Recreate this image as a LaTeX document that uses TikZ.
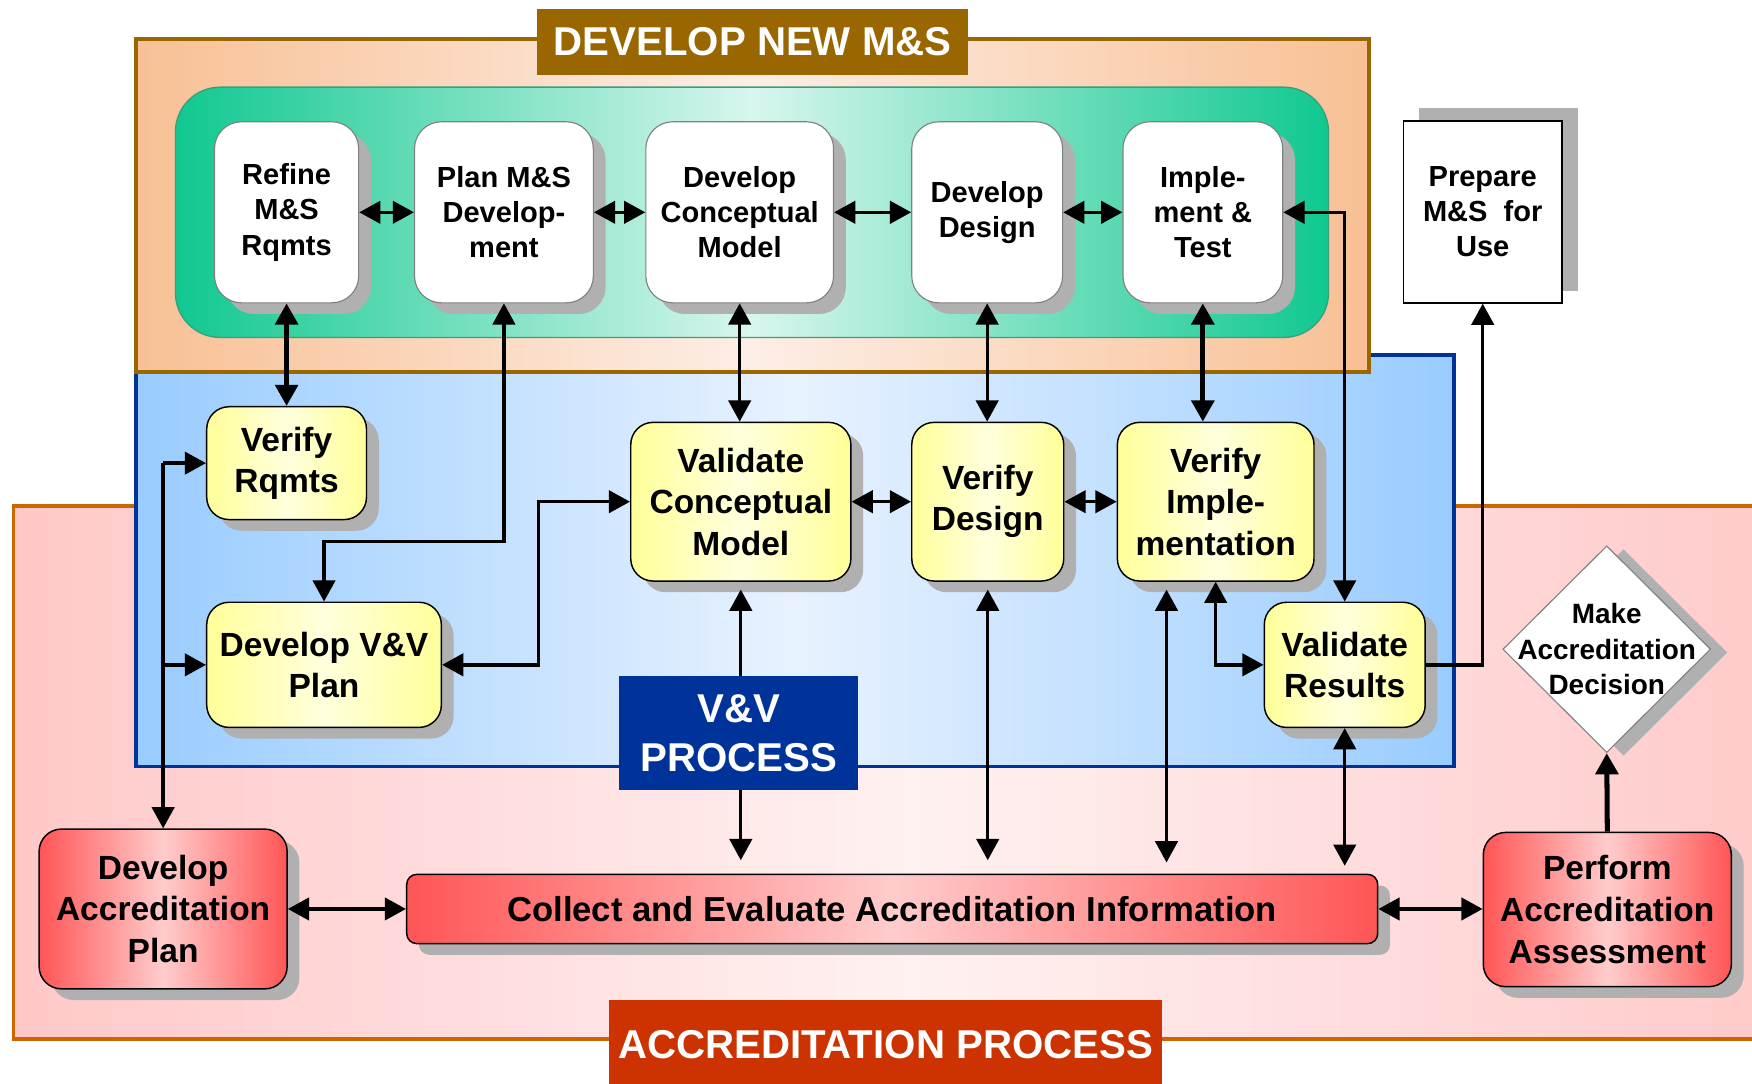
\documentclass[tikz,border=0pt]{standalone}
\usepackage{fontspec}
\setmainfont{Liberation Sans}
\usetikzlibrary{arrows.meta,shapes.geometric,shadows}
\definecolor{msbrown}{HTML}{996600}
\definecolor{mspeach}{HTML}{F8C094}
\definecolor{mspeachlt}{HTML}{FDEEE6}
\definecolor{msgreen}{HTML}{10C890}
\definecolor{msgreenlt}{HTML}{D8F6EE}
\definecolor{msgreenln}{HTML}{3AA07A}
\definecolor{vvblue}{HTML}{99CCFF}
\definecolor{vvbluelt}{HTML}{E8F2FF}
\definecolor{vvdark}{HTML}{003399}
\definecolor{accpink}{HTML}{FFC8C8}
\definecolor{accpinklt}{HTML}{FFF1F1}
\definecolor{accorange}{HTML}{CC6600}
\definecolor{accdark}{HTML}{CC3300}
\definecolor{boxyellow}{HTML}{FFFF99}
\definecolor{boxyellowlt}{HTML}{FFFFDD}
\definecolor{boxred}{HTML}{FF5555}
\definecolor{boxredlt}{HTML}{FFCCCC}
\definecolor{shadowgray}{HTML}{B0B0B0}
\begin{document}
\begin{tikzpicture}[
    x=1pt, y=-1pt,
    >={Triangle[length=19pt,width=20pt]},
    conn/.style={line width=3pt,<->},
    oneway/.style={line width=3pt,->},
    heavy/.style={line width=4.5pt},
    gshadow/.style={drop shadow={shadow xshift=11pt,shadow yshift=-10pt,fill=shadowgray,opacity=1}},
    devbox/.style={draw=gray, line width=1pt, fill=white, rounded corners=24pt, inner sep=0pt,
        align=center, font=\fontsize{26}{31.5}\selectfont\bfseries, gshadow},
    vvbox/.style={draw=black, line width=1.3pt, left color=boxyellow, right color=boxyellow,
        middle color=boxyellowlt, rounded corners=20pt, inner sep=0pt,
        align=center, font=\fontsize{30}{37}\selectfont\bfseries, gshadow},
    accbox/.style={draw=black, line width=1.3pt, left color=boxred, right color=boxred,
        middle color=boxredlt, rounded corners=20pt, inner sep=0pt,
        align=center, font=\fontsize{30}{37.5}\selectfont\bfseries, gshadow},
    tagbox/.style={inner sep=0pt, align=center, text=white, font=\fontsize{36}{44}\selectfont\bfseries}
    ]
	\useasboundingbox (0,0) rectangle (1568,970);
	\clip (0,0) rectangle (1568,970);
	\path[draw=accorange, line width=3pt, left color=accpink, right color=accpink, middle color=accpinklt]
		(12,453) rectangle (1620,930);
	\path[draw=vvdark, line width=3.5pt, left color=vvblue, right color=vvblue, middle color=vvbluelt]
		(122,318) rectangle (1301,686);
	\path[draw=msbrown, line width=3.5pt, left color=mspeach, right color=mspeach, middle color=mspeachlt]
		(122,35) rectangle (1225,333);
	\path[draw=msgreenln, line width=1.2pt, rounded corners=40pt, left color=msgreen, right color=msgreen, middle color=msgreenlt]
		(157,78) rectangle (1189,302);

	\node[devbox, minimum width=129pt, minimum height=162pt] (refine) at (256.5,190) {Refine\\M\&S\\Rqmts};
	\node[devbox, minimum width=160pt, minimum height=162pt] (planms) at (451,190) {Plan M\&S\\Develop-\\ment};
	\node[devbox, minimum width=168pt, minimum height=162pt] (devcm) at (662,190) {Develop\\Conceptual\\Model};
	\node[devbox, minimum width=135pt, minimum height=162pt] (devdes) at (883.5,190) {Develop\\Design};
	\node[devbox, minimum width=143pt, minimum height=162pt] (impl) at (1076.5,190) {Imple-\\ment \&\\Test};
	\node[draw=black, line width=1.5pt, fill=white, minimum width=142pt, minimum height=163pt, inner sep=0pt,
		align=center, font=\fontsize{26}{31.5}\selectfont\bfseries,
		drop shadow={shadow xshift=14pt,shadow yshift=11pt,fill=shadowgray,opacity=1}]
		(prep) at (1327,189.5) {Prepare\\M\&S~ for\\Use};

	\node[vvbox, minimum width=143pt, minimum height=101pt] (verreq) at (256.5,414.5) {Verify\\Rqmts};
	\node[vvbox, minimum width=210pt, minimum height=112pt] (vvplan) at (290,595) {Develop V\&V\\Plan};
	\node[vvbox, minimum width=197pt, minimum height=142pt] (valcm) at (663,449) {Validate\\Conceptual\\Model};
	\node[vvbox, minimum width=136pt, minimum height=142pt] (verdes) at (884,449) {Verify\\Design};
	\node[vvbox, minimum width=176pt, minimum height=142pt] (verimp) at (1088,449) {Verify\\Imple-\\mentation};
	\node[vvbox, minimum width=144pt, minimum height=112pt] (valres) at (1203.5,595) {Validate\\Results};

	\node[accbox, minimum width=222pt, minimum height=143pt] (accplan) at (146,813.5) {Develop\\Accreditation\\Plan};
	\node[accbox, rounded corners=9pt, minimum width=869pt, minimum height=62pt, font=\fontsize{31}{37}\selectfont\bfseries]
		(collect) at (798.5,813.5) {Collect and Evaluate Accreditation Information};
	\node[accbox, minimum width=222pt, minimum height=138pt] (perform) at (1438.5,814) {Perform\\Accreditation\\Assessment};
	\node[diamond, draw=gray, line width=1pt, fill=white, minimum width=186pt, minimum height=185pt, inner sep=0pt,
		drop shadow={shadow xshift=15pt,shadow yshift=-3pt,fill=shadowgray,opacity=1}] (decide) at (1438,581) {};
	\node[align=center, font=\fontsize{25}{32}\selectfont\bfseries] (decidetext) at (decide) {Make\\Accreditation\\Decision};

	\draw[conn] (refine) -- (planms);
	\draw[conn] (planms) -- (devcm);
	\draw[conn] (devcm) -- (devdes);
	\draw[conn] (devdes) -- (impl);
	\draw[conn] (impl.east) -| (valres.north);
	\draw[conn, heavy] (refine.south) -- (verreq.north);
	\draw[conn] (planms.south) -- ++(0,213) -| (vvplan.north);
	\draw[conn] (devcm.south) -- (devcm.south |- valcm.north);
	\draw[conn] (devdes.south) -- (devdes.south |- verdes.north);
	\draw[conn, heavy] (impl.south) -- (impl.south |- verimp.north);
	\draw[conn] (valcm) -- (verdes);
	\draw[conn] (verdes) -- (verimp);
	\draw[conn] (vvplan.east) -- ++(86,0) |- (valcm.west);
	\draw[oneway] (accplan.north |- verreq.west) -- (verreq.west);
	\draw[oneway] (accplan.north |- vvplan.west) -- (vvplan.west);
	\draw[oneway] (accplan.north |- verreq.west) -- (accplan.north);
	\draw[conn, shorten <=7pt, shorten >=12pt] (valcm.south) -- (valcm.south |- collect.north);
	\draw[conn, shorten <=7pt, shorten >=12pt] (verdes.south) -- (verdes.south |- collect.north);
	\draw[conn, shorten <=7pt, shorten >=10pt] ([xshift=-44pt]verimp.south) -- ([xshift=-44pt]verimp.south |- collect.north);
	\draw[conn] (verimp.south) |- (valres.west);
	\draw[conn, shorten >=7pt] (valres.south) -- (valres.south |- collect.north);
	\draw[oneway] (valres.east) -| (prep.south);
	\draw[oneway, heavy] (perform.north) -- (decide.south);
	\draw[conn] (accplan) -- (collect);
	\draw[conn] (collect.east) -- (collect.east -| perform.west);

	\node[tagbox, fill=msbrown, minimum width=385pt, minimum height=59pt] (devtag) at (673.5,37.5) {DEVELOP NEW M\&S};
	\node[tagbox, fill=vvdark, minimum width=214pt, minimum height=102pt] (vvtag) at (661,656) {V\&V\\PROCESS};
	\node[tagbox, fill=accdark, minimum width=495pt, minimum height=80pt] (acctag) at (792.5,935) {ACCREDITATION PROCESS};
\end{tikzpicture}
\end{document}
